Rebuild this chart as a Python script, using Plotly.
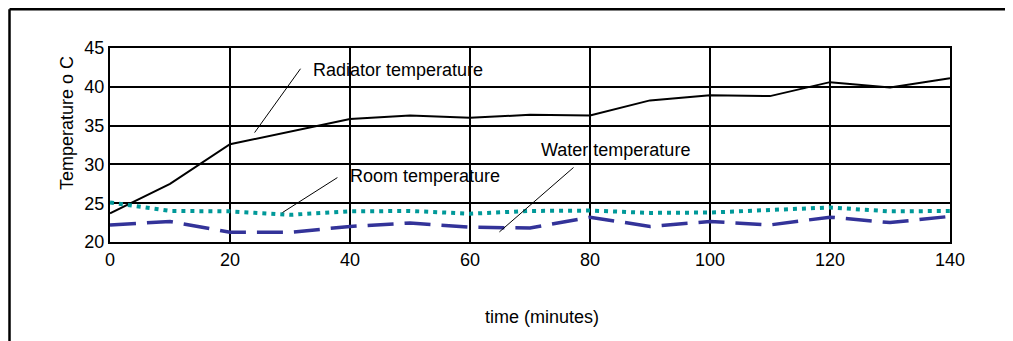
import plotly.graph_objects as go

time_min = [0, 10, 20, 30, 40, 50, 60, 70, 80, 90, 100, 110, 120, 130, 140]
radiator = [23.7, 27.5, 32.6, 34.25, 35.85, 36.3, 36.0, 36.4, 36.3, 38.25, 38.9, 38.8, 40.6, 39.9, 41.1]
room = [25.1, 24.0, 23.95, 23.5, 23.95, 24.0, 23.65, 24.0, 24.05, 23.75, 23.8, 24.15, 24.45, 23.95, 24.0]
water = [22.2, 22.65, 21.25, 21.25, 22.0, 22.45, 21.9, 21.8, 23.2, 22.0, 22.65, 22.2, 23.2, 22.5, 23.3]

x_ticks = [0, 20, 40, 60, 80, 100, 120, 140]
y_ticks = [20, 25, 30, 35, 40, 45]

FONT = "Liberation Sans, Arial, sans-serif"
FS = 18

# page is rendered with an 8px body margin; figure sized to fit the window
W, H = 1005, 333
L, R, T, B = 102, 63, 40, 99
PW, PH = W - L - R, H - T - B


def px(xf):
    return (xf - L) / PW


def py(yf):
    return (H - B - yf) / PH


fig = go.Figure()
fig.add_trace(go.Scatter(x=time_min, y=radiator, mode="lines",
                         line=dict(color="black", width=2), name="Radiator temperature"))
fig.add_trace(go.Scatter(x=time_min, y=room, mode="lines",
                         line=dict(color="#009999", width=4, dash="4px,5px"), name="Room temperature"))
fig.add_trace(go.Scatter(x=time_min, y=water, mode="lines",
                         line=dict(color="#333399", width=3.5, dash="26px,11px"), name="Water temperature"))

# leader lines for labels
leaders = [
    ((31.75, 42.33), (24.1, 34.1)),
    ((37.9, 28.3), (28.75, 23.8)),
    ((77.25, 29.6), (64.9, 21.3)),
]
for (x0, y0), (x1, y1) in leaders:
    fig.add_shape(type="line", x0=x0, y0=y0, x1=x1, y1=y1, xref="x", yref="y",
                  line=dict(color="black", width=1))

labels = [
    ("Radiator temperature", 33.5, 42.2),
    ("Room temperature", 39.7, 28.45),
    ("Water temperature", 71.5, 31.8),
]
for txt, lx, ly in labels:
    fig.add_annotation(text=txt, x=lx, y=ly, xref="x", yref="y", showarrow=False,
                       xanchor="left", yanchor="middle", font=dict(size=FS, color="black", family=FONT))

# axis titles
fig.add_annotation(text="time (minutes)", x=px(534), y=py(309),
                   xref="paper", yref="paper", showarrow=False, xanchor="center", yanchor="middle",
                   font=dict(size=FS, color="black", family=FONT))
fig.add_annotation(text="Temperature o C", x=px(59), y=py(115),
                   xref="paper", yref="paper", showarrow=False, xanchor="center", yanchor="middle",
                   textangle=-90, font=dict(size=FS, color="black", family=FONT))

# outer frame (top and left)
fig.add_shape(type="line", xref="paper", yref="paper",
              x0=px(1.5), y0=py(1.2), x1=px(W), y1=py(1.2),
              line=dict(color="black", width=2.5))
fig.add_shape(type="line", xref="paper", yref="paper",
              x0=px(1.5), y0=py(1.2), x1=px(1.5), y1=py(H + 5),
              line=dict(color="black", width=2.5))

fig.update_xaxes(range=[0, 140], tickvals=x_ticks, ticktext=[str(v) for v in x_ticks],
                 showgrid=True, gridcolor="black", gridwidth=1.5,
                 showline=True, linecolor="black", linewidth=2, mirror=True,
                 ticks="", tickfont=dict(size=FS, color="black", family=FONT), zeroline=False)
fig.update_yaxes(range=[20, 45], tickvals=y_ticks, ticktext=[str(v) for v in y_ticks],
                 showgrid=True, gridcolor="black", gridwidth=1.5,
                 showline=True, linecolor="black", linewidth=2, mirror=True,
                 ticks="", tickfont=dict(size=FS, color="black", family=FONT), zeroline=False)

fig.update_layout(width=W, height=H, margin=dict(l=L, r=R, t=T, b=B),
                  plot_bgcolor="white", paper_bgcolor="white", showlegend=False,
                  font=dict(family=FONT, color="black"))

fig.write_html("out.html")
